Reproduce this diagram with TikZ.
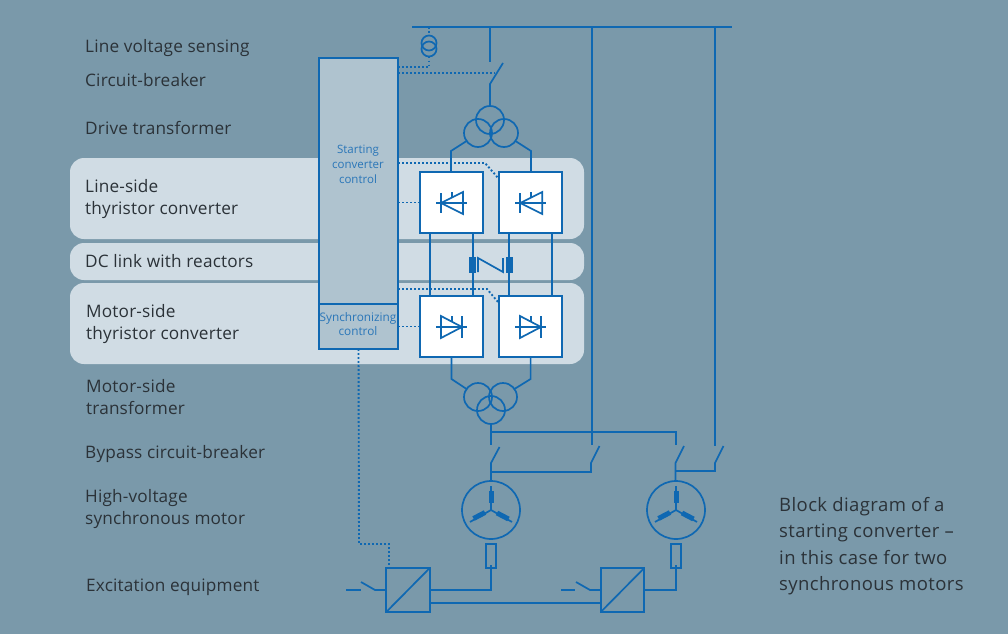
\documentclass[tikz,border=0pt]{standalone}
\usepackage{fontspec}
\setmainfont{Open Sans}
\newfontfamily\lblfont[LetterSpace=1]{Open Sans}
\newfontfamily\notefont[LetterSpace=2.2]{Open Sans}
\definecolor{bgblue}{HTML}{7A99AA}
\definecolor{bandblue}{HTML}{D0DCE4}
\definecolor{ctrlblue}{HTML}{AFC3CF}
\definecolor{wireblue}{HTML}{0F68B2}
\definecolor{textblue}{HTML}{2A76B8}
\definecolor{labelgrey}{HTML}{2B3238}
\tikzset{
  wire/.style={draw=wireblue,line width=1.7pt},
  sig/.style={draw=wireblue,line width=1.9pt,dash pattern=on 1.9pt off 2.1pt},
  band/.style={fill=bandblue,rounded corners=14pt},
  ctrlbox/.style={wire,fill=ctrlblue,inner sep=0pt,outer sep=0pt},
  ctrltext/.style={text=textblue,align=center,inner sep=0pt},
  convbox/.style={wire,fill=white,minimum width=63pt,minimum height=61pt,inner sep=0pt,outer sep=0pt},
  wind/.style={wire,circle,minimum size=28pt,inner sep=0pt,outer sep=0pt},
  ctcoil/.style={wire,circle,minimum size=15pt,inner sep=0pt,outer sep=0pt},
  motor/.style={wire,circle,minimum size=58pt,inner sep=0pt,outer sep=0pt},
  exbox/.style={wire,minimum width=10pt,minimum height=24pt,inner sep=0pt,outer sep=0pt},
  rectbox/.style={wire,minimum width=43.5pt,minimum height=44pt,inner sep=0pt,outer sep=0pt},
  reactor/.style={fill=wireblue,minimum width=7pt,minimum height=16pt,inner sep=0pt,outer sep=0pt},
  coilbar/.style={wire,line width=5pt},
  lbl/.style={anchor=base west,text=labelgrey,inner sep=0pt,font=\lblfont\fontsize{17.2}{22}\selectfont},
  note/.style={anchor=base west,text=labelgrey,inner sep=0pt,font=\notefont\fontsize{18.5}{26.6}\selectfont}
}
\begin{document}
\begin{tikzpicture}[x=1pt,y=-1pt]
    \useasboundingbox (0,0) rectangle (1008,634);
    \fill [bgblue] (0,0) rectangle (1008,634);
    \fill [band] (70,158) rectangle (584,239);
    \fill [band] (70,243) rectangle (584,280);
    \fill [band] (70,283) rectangle (584,364);
    % labels
    \node[lbl] (l1) at (85,52.5) {Line voltage sensing};
    \node[lbl] (l2) at (85,86) {Circuit-breaker};
    \node[lbl] (l3) at (85,134) {Drive transformer};
    \node[lbl] (l4) at (85,192) {Line-side};
    \node[lbl] (l5) at (85,214) {thyristor converter};
    \node[lbl] (l6) at (85,267) {DC link with reactors};
    \node[lbl] (l7) at (86,317) {Motor-side};
    \node[lbl] (l8) at (86,339) {thyristor converter};
    \node[lbl] (l9) at (86,392) {Motor-side};
    \node[lbl] (l10) at (86,414) {transformer};
    \node[lbl] (l11) at (85,458) {Bypass circuit-breaker};
    \node[lbl] (l12) at (85,502) {High-voltage};
    \node[lbl] (l13) at (85,524) {synchronous motor};
    \node[lbl] (l14) at (86,591) {Excitation equipment};
    \node[note] (n1) at (779,511) {Block diagram of a};
    \node[note] (n2) at (779,537.6) {starting converter –};
    \node[note] (n3) at (779,564.2) {in this case for two};
    \node[note] (n4) at (779,590.8) {synchronous motors};
    % control
    \node[ctrlbox,minimum width=79pt,minimum height=291pt] (ctrl) at (358.5,203.5) {};
    \node[ctrlbox,minimum width=79pt,minimum height=45pt] (sync) at (358.5,326.5) {};
    \node[ctrltext,font=\fontsize{11.5}{15}\selectfont] (ctxt) at (358,164) {Starting\\converter\\control};
    \node[ctrltext,font=\fontsize{11.8}{14}\selectfont] (stxt) at (358,324.5) {Synchronizing\\control};
    % converters
    \node[convbox] (a) at (451.5,202.5) {};
    \node[convbox] (b) at (530.8,202.5) {};
    \node[convbox] (c) at (451.5,326.5) {};
    \node[convbox] (d) at (530.6,326.5) {};
    % bus and points on it
    \coordinate (bl) at (412,27);
    \coordinate (br) at (732,27);
    \coordinate (b1) at (490,27);
    \coordinate (b2) at (592,27);
    \coordinate (b3) at (715,27);
    \coordinate (b4) at (429,27);
    \draw [wire] (bl) to (br);
    % line voltage sensing
    \node[ctcoil] (ct1) at (429,43) {};
    \node[ctcoil] (ct2) at (429,49) {};
    \coordinate (s1) at (398,67);
    \coordinate (s2) at (429,67);
    \coordinate (s3) at (398,73);
    \coordinate (s4) at (495,73);
    \draw [sig] (b4) to (ct1.north);
    \draw [sig] (ct2.south) to (s2) to (s1);
    \draw [sig] (s3) to (s4);
    % circuit-breaker and drive transformer
    \node[wind] (t1) at (490,120) {};
    \node[wind] (t2) at (478,133) {};
    \node[wind] (t3) at (504,133) {};
    \coordinate (q1) at (490,62);
    \coordinate (q2) at (490,84);
    \coordinate (q3) at (503,63);
    \draw [wire] (b1) to (q1);
    \draw [wire] (q3) to (q2) to (t1.north);
    \draw [wire] (t2.-145) to (451,151) to (451,172);
    \draw [wire] (t3.-35) to (531,151) to (531,172);
    % dotted from control to converters
    \coordinate (s5) at (398,163);
    \coordinate (s6) at (485,163);
    \coordinate (s7) at (499,179);
    \coordinate (s8) at (398,289);
    \coordinate (s9) at (487,289);
    \coordinate (s10) at (498,302);
    \draw [sig] (s5) to (s6) to (s7);
    \draw [sig] (s8) to (s9) to (s10);
    \draw [sig] (ctrl.east |- a.west) to (a.west);
    \draw [sig] (sync.east |- c.west) to (c.west);
    % thyristors
    \draw [wire] (436,203) to (467,203);
    \draw [wire] (441,193) to (441,213);
    \draw [wire] (441,203) to (463,192) to (463,214) to cycle;
    \draw [wire] (452,192) to (452,198);
    \draw [wire] (515.3,203) to (546.3,203);
    \draw [wire] (520.3,193) to (520.3,213);
    \draw [wire] (520.3,203) to (542.3,192) to (542.3,214) to cycle;
    \draw [wire] (531.3,192) to (531.3,198);
    \draw [wire] (436,327) to (467,327);
    \draw [wire] (462,316) to (462,338);
    \draw [wire] (462,327) to (441,316) to (441,338) to cycle;
    \draw [wire] (452,316) to (452,322);
    \draw [wire] (515,327) to (546,327);
    \draw [wire] (541,316) to (541,338);
    \draw [wire] (541,327) to (520,316) to (520,338) to cycle;
    \draw [wire] (531,316) to (531,322);
    % DC link
    \draw [wire] ([xshift=10pt]a.south west) to ([xshift=10pt]c.north west);
    \draw [wire] ([xshift=-10pt]a.south east) to ([xshift=-10pt]c.north east);
    \draw [wire] ([xshift=9.7pt]b.south west) to ([xshift=9.9pt]d.north west);
    \draw [wire] ([xshift=-10pt]b.south east) to ([xshift=-9.8pt]d.north east);
    \node[reactor] (r1) at (472.5,265) {};
    \node[reactor] (r2) at (509.5,265) {};
    \draw [wire] (478,272) to (478,258) to (503,272) to (503,258);
    % motor-side transformer
    \node[wind] (t4) at (478,397) {};
    \node[wind] (t5) at (503,397) {};
    \node[wind] (t6) at (491,410) {};
    \draw [wire] (c.south) to (451.5,379) to (t4.145);
    \draw [wire] (d.south) to (530.6,379) to (t5.35);
    % bypass
    \node[motor] (m1) at (491,510) {};
    \node[motor] (m2) at (676,510) {};
    \coordinate (j1) at (491,432);
    \coordinate (j2) at (676,432);
    \coordinate (j3) at (591,472);
    \coordinate (j4) at (491,472);
    \coordinate (j5) at (715,471);
    \coordinate (j6) at (675.5,471);
    \draw [wire] (t6.south) to (491,445);
    \draw [wire] (j1) to (j2) to (676,445);
    \draw [wire] (b2) to (592,445);
    \draw [wire] (b3) to (715,446);
    \draw [wire] (499.5,447) to (491,463) to (m1.north);
    \draw [wire] (599.5,446) to (591,463) to (j3) to (j4);
    \draw [wire] (684,446) to (675.5,463) to (675.5,481);
    \draw [wire] (723.5,446) to (715,463) to (j5) to (j6);
    % motor windings
    \draw [wire] (491,486) to (491,510) to (470,522);
    \draw [wire] (491,510) to (512,522);
    \draw [coilbar] (491,491) to (491,503);
    \draw [coilbar] (473.5,518.5) to (485,512.5);
    \draw [coilbar] (497,513) to (508.5,519);
    \draw [wire] (676,486) to (676,510) to (655,522);
    \draw [wire] (676,510) to (697,522);
    \draw [coilbar] (676,491) to (676,503);
    \draw [coilbar] (658.5,518.5) to (670,512.5);
    \draw [coilbar] (682,513) to (693.5,519);
    % excitation
    \node[exbox] (e1) at (491,556) {};
    \node[exbox] (e2) at (676,556) {};
    \node[rectbox] (x1) at (408,590) {};
    \node[rectbox] (x2) at (622.5,590) {};
    \draw [wire] (x1.south west) to (x1.north east);
    \draw [wire] (x2.south west) to (x2.north east);
    \draw [wire] (x1.east) to (491,590) to (491,565);
    \draw [wire] (x2.east) to (676,590) to (676,565);
    \draw [wire] (430,603) to (601,603);
    \draw [wire] (346,590) to (361,590);
    \draw [wire] (361,582) to (375,590) to (x1.west);
    \draw [wire] (561,590) to (575,590);
    \draw [wire] (576,582) to (590,590) to (x2.west);
    \coordinate (s11) at (359,544);
    \coordinate (s12) at (389,544);
    \coordinate (s13) at (389,566);
    \draw [sig] (sync.south) to (s11) to (s12) to (s13);
  \end{tikzpicture}
\end{document}
